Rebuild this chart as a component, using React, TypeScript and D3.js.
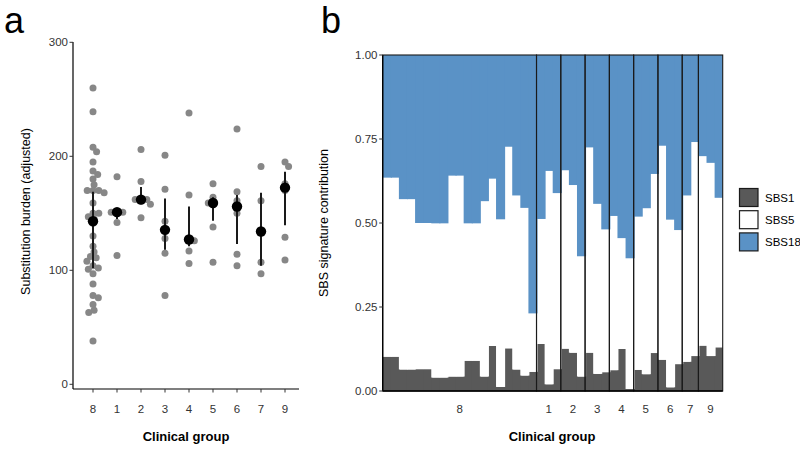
import React from "react";
import * as d3 from "d3";

// ---------- Panel a data ----------
const groupOrder = ["8", "1", "2", "3", "4", "5", "6", "7", "9"];
const burdenG8 = [260, 239, 208, 204, 195, 187, 184, 180, 175, 170, 170, 170, 168, 159, 150, 150, 147, 145, 130, 121, 116, 112, 111, 108, 104, 102, 101, 97, 88, 78, 76, 70, 65, 63, 38];
const burdenG1 = [182, 151, 151, 151, 142, 113];
const burdenG2 = [206, 178, 162, 162, 162, 158, 146];
const burdenG3 = [201, 171, 143, 128, 115, 78];
const burdenG4 = [238, 166, 128, 126, 117, 106];
const burdenG5 = [176, 164, 159, 159, 138, 107];
const burdenG6 = [224, 169, 161, 156, 150, 114, 104];
const burdenG7 = [191, 161, 107, 97];
const burdenG9 = [195, 191, 176, 170, 129, 109];
const burdenByGroup = [burdenG8, burdenG1, burdenG2, burdenG3, burdenG4, burdenG5, burdenG6, burdenG7, burdenG9];
const medianBurden = [143, 151, 162, 135.5, 127, 159, 156, 134, 172.5];
const lowBurden = [102, 145, 158, 118, 121, 143.5, 123, 104, 139.5];
const highBurden = [169, 154, 173, 163, 156, 164, 166, 168, 186.5];
const burdenTicks = [0, 100, 200, 300];

// ---------- Panel b data ----------
const sampleGroup = [
  "8", "8", "8", "8", "8", "8", "8", "8", "8", "8", "8", "8", "8", "8", "8", "8", "8", "8", "8",
  "1", "1", "1", "2", "2", "2", "3", "3", "3", "4", "4", "4", "5", "5", "5", "6", "6", "6", "7", "7", "9", "9", "9",
];
const sbs1 = [
  0.102, 0.102, 0.064, 0.064, 0.065, 0.065, 0.04, 0.04, 0.043, 0.043, 0.09, 0.09, 0.043, 0.134, 0.012, 0.127, 0.064, 0.046, 0.057,
  0.14, 0.02, 0.065, 0.126, 0.114, 0.043, 0.114, 0.051, 0.056, 0.062, 0.125, 0.006, 0.063, 0.05, 0.113, 0.093, 0.011, 0.08, 0.087, 0.104, 0.135, 0.104, 0.13,
];
const sbs5 = [
  0.533, 0.533, 0.507, 0.507, 0.435, 0.435, 0.459, 0.459, 0.598, 0.598, 0.409, 0.409, 0.522, 0.498, 0.499, 0.6, 0.518, 0.499, 0.174,
  0.372, 0.635, 0.524, 0.531, 0.499, 0.358, 0.611, 0.506, 0.425, 0.459, 0.33, 0.389, 0.456, 0.494, 0.533, 0.637, 0.499, 0.399, 0.495, 0.637, 0.564, 0.575, 0.445,
];
const signatures = ["SBS1", "SBS5", "SBS18"];
const sigColors = ["#595959", "#ffffff", "#5a92c6"];
const contribTicks = [0, 0.25, 0.5, 0.75, 1];

const FONT = "'Liberation Sans', Arial, Helvetica, sans-serif";
const TICK_COL = "#333333";

function swarm(vals: number[], y: (v: number) => number, d: number) {
  const pts = vals.map((v) => ({ v, y: y(v), x: 0 }));
  const order = pts.slice().sort((a, b) => a.y - b.y);
  const placed: { v: number; y: number; x: number }[] = [];
  for (const p of order) {
    const cands = [0];
    for (const q of placed) {
      const dy = Math.abs(q.y - p.y);
      if (dy < d) {
        const dx = Math.sqrt(d * d - dy * dy);
        cands.push(q.x + dx, q.x - dx);
      }
    }
    cands.sort((a, b) => Math.abs(a) - Math.abs(b) || b - a);
    for (const c of cands) {
      if (placed.every((q) => (q.x - c) ** 2 + (q.y - p.y) ** 2 >= d * d - 1e-6)) {
        p.x = c;
        break;
      }
    }
    placed.push(p);
  }
  return pts;
}

export default function App() {
  // Panel a scales
  const xA = d3.scalePoint<string>().domain(groupOrder).range([93, 285]);
  const yA = d3.scaleLinear().domain([0, 300]).range([384.3, 42.3]);
  const axisA = { left: 73, right: 299, bottom: 389, top: 42 };

  // Panel b scales
  const idx = d3.range(sampleGroup.length);
  const xB = d3.scaleBand<number>().domain(idx).range([382.7, 722.7]).padding(0);
  const yB = d3.scaleLinear().domain([0, 1]).range([391, 55]);
  const rows = idx.map((i) => ({
    SBS1: sbs1[i],
    SBS5: sbs5[i],
    SBS18: Math.max(0, 1 - sbs1[i] - sbs5[i]),
  }));
  const stack = d3.stack<any>().keys(signatures)(rows);
  const facets = groupOrder.map((g) => {
    const ids = idx.filter((i) => sampleGroup[i] === g);
    const x0 = xB(ids[0])!;
    const x1 = xB(ids[ids.length - 1])! + xB.bandwidth();
    return { g, x0, x1 };
  });
  const bw = xB.bandwidth();

  return (
    <svg
      width={800}
      height={452}
      style={{ position: "absolute", left: 0, top: 0, background: "#fff" }}
      fontFamily={FONT}
    >
      <rect x={0} y={0} width={800} height={452} fill="#fff" />
      {/* ---------- Panel a ---------- */}
      <text x={4} y={33} fontSize={36} fill="#000">a</text>
      {burdenByGroup.map((vals, gi) => {
        const cx = xA(groupOrder[gi])!;
        const pts = swarm(vals, yA, 5.8);
        return (
          <g key={"pa" + gi}>
            {pts.map((p, i) => (
              <circle key={i} cx={cx + p.x} cy={p.y} r={3.5} fill="#878787" />
            ))}
          </g>
        );
      })}
      {groupOrder.map((g, gi) => (
        <g key={"sum" + g}>
          <line x1={xA(g)} x2={xA(g)} y1={yA(lowBurden[gi])} y2={yA(highBurden[gi])} stroke="#1a1a1a" strokeWidth={2} />
          <circle cx={xA(g)} cy={yA(medianBurden[gi])} r={5.2} fill="#000" />
        </g>
      ))}
      <line x1={axisA.left} x2={axisA.left} y1={axisA.top} y2={axisA.bottom} stroke="#000" strokeWidth={1.2} />
      <line x1={axisA.left} x2={axisA.right} y1={axisA.bottom} y2={axisA.bottom} stroke="#000" strokeWidth={1.2} />
      {burdenTicks.map((t) => (
        <g key={"ta" + t}>
          <line x1={axisA.left - 3.5} x2={axisA.left} y1={yA(t)} y2={yA(t)} stroke="#333" strokeWidth={1} />
          <text x={axisA.left - 5} y={yA(t) + 4} fontSize={11.5} textAnchor="end" fill={TICK_COL}>{t}</text>
        </g>
      ))}
      {groupOrder.map((g) => (
        <g key={"xa" + g}>
          <line x1={xA(g)} x2={xA(g)} y1={axisA.bottom} y2={axisA.bottom + 3.5} stroke="#333" strokeWidth={1} />
          <text x={xA(g)} y={413} fontSize={11.5} textAnchor="middle" fill={TICK_COL}>{g}</text>
        </g>
      ))}
      <text x={(axisA.left + axisA.right) / 2} y={441} fontSize={13} fontWeight="bold" textAnchor="middle" fill="#000">Clinical group</text>
      <text transform={`translate(30,${(axisA.top + axisA.bottom) / 2 - 4}) rotate(-90)`} fontSize={12.5} textAnchor="middle" fill="#000">Substitution burden (adjusted)</text>

      {/* ---------- Panel b ---------- */}
      <text x={321} y={33} fontSize={36} fill="#000">b</text>
      {stack.map((layer, li) => (
        <g key={"layer" + li}>
          {layer.map((d, i) => (
            <rect
              key={i}
              x={xB(i)!}
              width={i === idx.length - 1 ? bw : bw + 1}
              y={yB(d[1])}
              height={Math.max(0, yB(d[0]) - yB(d[1]))}
              fill={sigColors[li]}
            />
          ))}
        </g>
      ))}
      {facets.map((f) => (
        <rect key={"f" + f.g} x={f.x0} y={55} width={f.x1 - f.x0} height={336} fill="none" stroke="#1a1a1a" strokeWidth={1.1} />
      ))}
      <line x1={382.7} x2={382.7} y1={55} y2={391} stroke="#000" strokeWidth={1.3} />
      <line x1={382.7} x2={722.7} y1={391} y2={391} stroke="#000" strokeWidth={1.3} />
      {contribTicks.map((t) => (
        <g key={"tb" + t}>
          <line x1={379.2} x2={382.7} y1={yB(t)} y2={yB(t)} stroke="#333" strokeWidth={1} />
          <text x={377.5} y={yB(t) + 4} fontSize={11.5} textAnchor="end" fill={TICK_COL}>{t.toFixed(2)}</text>
        </g>
      ))}
      {facets.map((f) => (
        <text key={"xl" + f.g} x={(f.x0 + f.x1) / 2} y={413} fontSize={11.5} textAnchor="middle" fill={TICK_COL}>{f.g}</text>
      ))}
      <text x={552} y={441} fontSize={13} fontWeight="bold" textAnchor="middle" fill="#000">Clinical group</text>
      <text transform={`translate(328,223) rotate(-90)`} fontSize={12.5} textAnchor="middle" fill="#000">SBS signature contribution</text>

      {/* Legend */}
      {signatures.map((s, i) => (
        <g key={"lg" + s}>
          <rect x={739.5} y={188.5 + i * 22.2} width={18.5} height={18} fill={sigColors[i]} stroke="#1a1a1a" strokeWidth={1.2} />
          <text x={765} y={188.5 + i * 22.2 + 13} fontSize={11.5} fill="#000">{s}</text>
        </g>
      ))}
    </svg>
  );
}
